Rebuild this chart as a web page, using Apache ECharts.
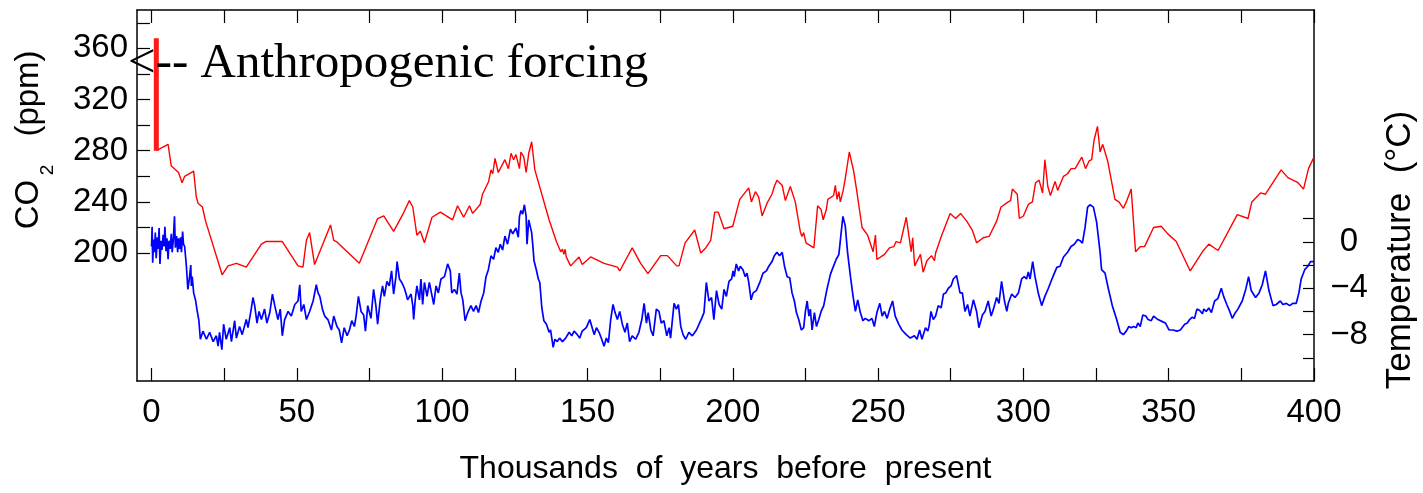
<!DOCTYPE html>
<html><head><meta charset="utf-8">
<script src="https://cdn.jsdelivr.net/npm/echarts@6/dist/echarts.min.js"></script>
<style>html,body{margin:0;padding:0;background:#fff}#c{width:1423px;height:493px}</style>
</head><body><div id="c"></div>
<script>
// ---- data ----
const co2Kyr = [1.65,5.7,6.8,9.3,10.5,11.4,14.5,15.4,16.0,17.5,18.6,24.3,26.3,29.2,32.6,37.8,39.3,45.0,50.4,52.1,53.3,54.4,56.1,61.6,62.7,63.6,71.5,77.8,79.9,83.3,86.4,88.7,89.9,91.3,92.5,93.9,96.5,99.4,103.6,105.3,107.4,109.4,110.5,113.1,113.9,116.0,116.8,117.4,118.2,119.3,121.6,122.8,123.7,124.6,125.4,126.6,127.1,128.1,128.9,129.8,130.8,131.9,136.8,139.3,140.8,141.4,141.9,142.3,142.7,144.2,147.1,148.2,151.1,155.7,160.3,161.1,165.4,168.3,170.8,175.2,177.5,180.7,181.5,183.6,186.9,189.0,190.7,192.4,193.8,195.0,197.0,200.0,202.4,205.5,206.4,207.8,208.9,210.1,211.8,213.5,214.3,215.2,217.0,218.1,218.7,219.8,221.5,223.3,223.8,224.4,225.2,227.9,229.2,230.4,231.1,232.2,232.7,234.7,235.3,235.9,236.5,237.0,237.9,238.7,240.1,241.6,242.5,244.5,246.4,248.3,249.1,249.6,252.2,253.9,255.4,256.2,257.7,259.7,261.4,261.9,262.6,264.6,265.5,266.8,268.4,269.4,269.8,271.9,274.8,276.7,278.4,280.5,282.4,283.9,286.2,288.2,290.8,292.3,294.8,295.6,296.2,297.9,298.6,300.0,301.7,303.1,304.2,305.4,306.6,307.4,308.4,309.3,310.9,311.8,313.8,315.2,316.4,317.8,320.1,321.4,322.6,323.5,324.3,325.5,326.4,327.3,329.0,331.5,332.9,334.4,335.6,337.1,338.6,340.2,341.7,344.8,347.4,349.7,352.6,357.4,361.6,363.8,367.0,373.6,377.3,378.6,381.6,383.3,388.7,391.0,394.5,396.4,398.1,400.0];
const co2Ppm = [280,285,268,263,255,260,264,244,239,236,225,183,190,192,189,207,209,209,190,189,210,216,191,222,210,209,192,227,229,217,230,241,236,214,217,208,228,232,226,237,228,237,231,238,246,256,265,262,274,263,273,266,278,273,277,266,279,275,263,278,287,265,226,209,201,203,199,203,197,190,197,191,197,192,189,186,204,192,184,198,198,190,190,208,218,200,204,210,232,232,219,221,242,251,240,248,244,229,239,246,252,257,253,241,241,252,240,216,213,216,208,204,237,234,226,234,242,245,253,242,248,240,248,258,279,264,251,220,214,201,214,195,199,204,205,209,208,228,201,212,190,199,185,194,198,194,200,214,231,227,231,225,218,208,212,213,225,236,240,241,250,246,227,229,238,240,255,257,247,273,252,245,256,249,260,262,266,266,275,266,272,273,288,299,279,285,272,242,240,235,241,250,201,205,205,220,221,215,209,186,201,207,202,230,227,240,247,246,265,259,255,250,266,275];

const anthroKyr = [1.65, 1.65];
const anthroPpm = [280, 368];

const tempKyr = [0.0,0.2,0.4,0.7,1.0,1.3,1.6,2.0,2.3,2.6,2.9,3.3,3.6,4.0,4.3,4.6,5.0,5.3,5.7,6.0,6.4,6.8,7.1,7.5,7.9,8.2,8.6,9.0,9.3,9.7,10.0,10.3,10.7,11.0,11.4,12.0,12.5,13.0,13.5,13.7,14.0,14.5,15.2,15.6,16.3,16.8,17.7,18.9,20.0,21.2,22.3,22.9,23.4,24.2,24.8,25.7,26.9,27.5,28.6,29.2,30.3,31.2,32.6,33.2,34.3,34.9,35.5,36.3,37.0,37.8,38.9,39.7,40.7,41.6,42.4,43.5,44.3,45.0,45.8,47.0,48.1,49.3,50.4,51.0,51.5,52.4,53.3,54.4,55.6,56.7,57.3,57.9,58.8,59.6,60.7,61.9,62.7,63.8,64.6,65.4,66.3,67.3,68.1,68.9,69.8,70.4,71.2,72.1,73.0,73.6,74.4,75.5,76.4,77.2,77.8,78.7,79.5,80.1,81.0,81.8,82.6,83.3,84.1,84.5,85.3,86.1,87.0,87.6,88.1,89.3,89.9,90.2,90.7,91.3,92.2,92.7,93.3,93.9,94.8,95.6,96.4,97.1,97.9,98.7,99.6,100.8,101.9,102.8,103.3,104.2,105.1,105.9,106.5,107.1,107.9,108.8,109.9,110.8,111.7,112.5,113.4,114.3,115.1,115.9,116.8,117.7,118.5,119.3,120.0,120.8,121.6,122.5,123.5,124.3,125.4,126.2,126.6,127.1,127.7,128.3,128.9,129.2,129.8,130.8,131.2,131.6,132.4,133.1,133.6,134.3,135.0,135.9,136.8,137.3,138.2,138.8,139.6,140.4,141.4,142.5,143.7,144.6,145.4,146.5,147.3,148.2,149.6,150.8,151.5,152.3,153.1,154.0,154.9,155.7,156.5,157.2,158.0,158.8,159.5,160.3,161.1,162.0,162.9,163.7,164.5,165.4,166.6,167.7,168.7,169.5,170.3,170.9,171.8,172.6,173.7,174.6,175.4,176.3,177.3,178.1,178.6,179.8,180.6,181.3,182.1,182.9,183.8,184.9,186.1,187.5,188.4,189.3,190.1,190.9,191.8,192.7,193.5,194.4,195.3,196.2,197.0,197.8,198.7,199.6,200.1,200.5,201.2,202.0,202.6,203.5,204.3,204.9,205.5,206.3,207.0,208.1,209.3,210.4,211.6,212.4,213.5,214.3,215.2,216.1,217.0,217.8,218.7,219.6,220.4,221.2,221.9,222.7,223.6,224.4,225.0,225.6,226.2,226.7,227.3,228.1,228.8,229.6,230.4,231.3,232.4,233.6,234.5,235.6,236.5,237.3,237.9,238.7,239.5,240.5,241.4,242.2,243.0,243.9,244.8,245.6,246.8,247.9,248.7,249.6,250.6,251.4,252.2,253.1,254.0,255.0,255.9,257.1,258.2,259.7,261.1,262.5,263.4,264.3,265.1,266.3,267.1,267.6,268.2,269.0,269.8,270.7,271.7,272.5,273.3,274.2,275.1,275.9,277.0,278.2,279.0,279.9,280.8,281.6,282.8,283.9,284.7,285.9,286.8,287.9,288.9,289.7,290.8,291.6,292.5,293.5,294.3,294.8,296.0,297.1,298.3,299.4,300.3,301.1,301.7,302.3,303.2,304.0,305.2,306.3,307.4,308.6,310.0,311.5,312.6,313.8,315.2,316.4,317.5,318.7,319.5,320.3,321.2,322.1,322.9,324.1,325.2,326.4,326.9,328.1,329.2,330.6,332.1,333.3,334.4,335.4,336.3,337.1,337.9,338.8,339.4,340.2,341.1,342.1,342.9,344.0,344.8,346.3,348.0,348.9,350.1,351.5,352.8,354.0,355.5,356.4,357.2,358.1,358.9,359.7,360.6,361.6,362.1,362.9,363.8,364.7,365.8,366.9,368.1,368.9,370.0,371.0,371.9,372.7,373.8,375.3,376.5,377.5,378.4,379.9,381.1,382.2,383.3,384.5,385.9,387.0,388.4,389.3,390.5,391.6,392.8,393.9,394.8,395.6,396.8,397.9,398.8,400.0];
const tempC = [-0.4,1.3,-1.8,0.2,-0.9,0.8,-1.4,0.4,-0.6,1.2,-1.9,0.1,-0.7,0.6,-0.4,1.3,-0.8,0.3,-1.5,0.1,-0.6,0.7,-0.9,0.2,2.2,-0.5,0.5,-0.9,0.3,-0.6,0.4,-0.9,0.9,-0.2,-0.4,-2.1,-4.1,-3.2,-2.0,-3.8,-3.0,-4.4,-5.1,-5.8,-6.8,-8.4,-7.7,-8.4,-7.8,-8.6,-8.1,-9.0,-7.8,-9.3,-7.1,-8.4,-7.4,-8.6,-6.8,-8.3,-7.3,-8.0,-6.7,-7.4,-5.8,-4.8,-5.5,-7.0,-6.0,-6.7,-5.8,-7.0,-6.1,-4.5,-5.5,-6.7,-5.8,-8.1,-6.7,-6.0,-6.4,-5.4,-5.1,-3.7,-6.0,-5.4,-6.7,-6.0,-5.1,-3.7,-4.4,-4.7,-5.8,-6.4,-6.7,-7.6,-6.4,-7.3,-7.6,-8.7,-7.4,-8.1,-7.6,-6.8,-7.3,-6.4,-4.7,-6.0,-6.3,-7.7,-5.5,-6.6,-4.1,-5.5,-7.1,-5.0,-3.8,-4.7,-3.4,-3.8,-2.5,-4.5,-3.0,-1.7,-3.2,-3.5,-4.0,-4.5,-5.0,-4.5,-5.5,-6.7,-5.1,-3.8,-5.0,-3.2,-5.4,-3.5,-4.7,-3.5,-4.5,-5.4,-3.8,-4.4,-3.2,-3.0,-1.9,-2.5,-4.4,-4.1,-4.5,-2.7,-4.4,-5.0,-6.8,-6.1,-5.5,-6.0,-5.5,-6.1,-5.1,-4.4,-3.0,-2.4,-1.2,-1.5,-0.5,-0.9,-0.2,-0.7,0.5,-0.2,1.1,0.7,1.2,0.4,2.2,2.7,2.4,3.2,2.2,-0.2,1.9,0.8,-0.3,-1.6,-2.4,-3.2,-3.5,-5.7,-6.8,-7.1,-7.8,-7.6,-9.1,-8.4,-8.6,-8.3,-8.6,-8.3,-7.8,-8.1,-7.7,-8.0,-8.3,-7.7,-7.4,-6.7,-7.3,-8.0,-7.4,-7.8,-8.4,-9.0,-8.3,-8.7,-6.7,-5.4,-6.1,-6.7,-6.0,-7.1,-7.8,-7.0,-8.6,-8.1,-8.4,-7.8,-6.7,-5.3,-7.0,-6.1,-7.6,-8.1,-5.8,-6.0,-7.0,-6.8,-8.1,-7.4,-8.3,-5.3,-5.8,-5.4,-7.3,-8.0,-8.4,-7.8,-8.1,-7.6,-7.1,-6.6,-6.1,-3.5,-5.1,-4.8,-6.7,-4.2,-5.4,-5.8,-4.1,-4.7,-3.4,-3.2,-2.5,-3.0,-1.9,-2.5,-2.1,-2.4,-3.0,-2.7,-3.5,-5.0,-4.4,-4.2,-3.5,-2.7,-2.5,-2.1,-1.7,-1.2,-0.9,-1.2,-0.9,-2.1,-3.0,-3.1,-4.4,-5.1,-6.1,-6.7,-7.6,-7.4,-6.0,-5.1,-6.4,-5.8,-7.6,-6.1,-7.3,-6.7,-6.0,-5.5,-4.1,-2.8,-2.2,-1.5,-1.1,0.8,2.2,1.4,-0.9,-3.0,-4.7,-6.0,-5.0,-6.1,-6.8,-6.6,-6.8,-6.6,-7.3,-6.1,-5.3,-6.4,-6.0,-6.6,-5.8,-5.1,-6.4,-7.1,-7.6,-8.0,-8.3,-8.1,-8.4,-7.6,-8.4,-7.4,-7.7,-7.2,-6.0,-6.7,-6.4,-5.5,-5.7,-4.5,-4.4,-4.0,-3.8,-3.2,-2.9,-4.4,-4.4,-6.0,-5.4,-6.4,-5.0,-6.0,-7.4,-6.3,-6.0,-5.1,-6.4,-5.8,-4.8,-5.3,-3.4,-5.1,-6.0,-5.3,-4.5,-4.8,-4.4,-3.2,-3.0,-3.2,-2.6,-3.2,-1.7,-3.0,-4.5,-5.5,-4.7,-4.0,-3.1,-2.2,-2.1,-1.3,-0.9,-0.4,-0.2,0.2,0.1,-0.1,1.2,3.0,3.2,3.0,1.7,-0.9,-2.4,-2.7,-4.0,-5.5,-6.7,-7.8,-8.0,-7.7,-7.3,-7.4,-7.3,-7.4,-7.0,-7.3,-6.3,-6.4,-6.7,-6.8,-6.4,-6.7,-6.9,-7.0,-7.6,-7.6,-7.7,-7.6,-7.1,-7.0,-6.7,-6.5,-6.6,-5.8,-5.9,-6.2,-5.8,-6.0,-5.7,-6.1,-5.1,-4.9,-4.0,-4.7,-5.4,-6.0,-6.6,-6.2,-5.8,-5.1,-4.1,-3.0,-4.2,-4.8,-4.4,-3.7,-2.5,-4.2,-5.5,-5.4,-5.1,-5.4,-5.3,-5.5,-5.3,-5.3,-4.4,-3.2,-2.4,-2.1,-1.7,-1.7];

const xTickValues = [0,25,50,75,100,125,150,175,200,225,250,275,300,325,350,375,400];
const xLabelValues = [0,50,100,150,200,250,300,350,400];
const co2TickValues = [200,220,240,260,280,300,320,340,360,380];
const co2LabelValues = [200,240,280,320,360];
const tempTickValues = [-10,-8,-6,-4,-2,0,2];
const tempLabelValues = [-8,-4,0];

const xTitle = 'Thousands  of  years  before  present';
const tempTitle = 'Temperature  (\u00B0C)';
const co2TitleMain = 'CO';
const co2TitleSub = '2';
const co2TitleUnit = '(ppm)';
const noteText = '<-- Anthropogenic forcing';

// ---- chart ----
const sans = '"Liberation Sans", Arial, sans-serif';
const zip = (a, b) => a.map((v, i) => [v, b[i]]);
const minusFmt = v => (v < 0 ? '\u2212' + Math.abs(v) : String(v));

const chart = echarts.init(document.getElementById('c'), null, {renderer: 'canvas'});
const tickStyle = {color: '#000', width: 1.2};
const frameLine = {show: true, onZero: false, lineStyle: {color: '#000', width: 1.5}};
chart.setOption({
  animation: false,
  backgroundColor: '#fff',
  grid: {left: 137, right: 109, top: 10, bottom: 112, containLabel: false},
  xAxis: [{
    type: 'value', min: -5, max: 400, position: 'bottom',
    axisLine: frameLine,
    axisTick: {show: true, inside: true, length: 13, customValues: xTickValues, lineStyle: tickStyle},
    axisLabel: {show: true, customValues: xLabelValues, fontFamily: sans, fontSize: 33, color: '#000', margin: 15},
    splitLine: {show: false},
    name: xTitle, nameLocation: 'middle', nameGap: 72,
    nameTextStyle: {fontFamily: sans, fontSize: 32, color: '#000'}
  }, {
    type: 'value', min: -5, max: 400, position: 'top',
    axisLine: frameLine,
    axisTick: {show: true, inside: true, length: 13, customValues: xTickValues, lineStyle: tickStyle},
    axisLabel: {show: false},
    splitLine: {show: false}
  }],
  yAxis: [{
    type: 'value', min: 100, max: 390, position: 'left',
    axisLine: frameLine,
    axisTick: {show: true, inside: true, length: 13, customValues: co2TickValues, lineStyle: tickStyle},
    axisLabel: {show: true, customValues: co2LabelValues, fontFamily: sans, fontSize: 33, color: '#000', margin: 9},
    splitLine: {show: false}
  }, {
    type: 'value', min: -12, max: 20, position: 'right',
    axisLine: {show: true, onZero: false, lineStyle: {color: '#444', width: 2}},
    axisTick: {show: true, inside: true, length: 11, customValues: tempTickValues, lineStyle: tickStyle},
    axisLabel: {show: true, customValues: tempLabelValues, formatter: minusFmt, align: 'center', fontFamily: sans, fontSize: 33, color: '#000', margin: 35},
    splitLine: {show: false}
  }],
  series: [{
    name: 'Temperature', type: 'line', xAxisIndex: 0, yAxisIndex: 1,
    data: zip(tempKyr, tempC), showSymbol: false, symbol: 'none',
    lineStyle: {color: '#0000ff', width: 1.7}, z: 2
  }, {
    name: 'CO2', type: 'line', xAxisIndex: 0, yAxisIndex: 0,
    data: zip(co2Kyr, co2Ppm), showSymbol: false, symbol: 'none',
    lineStyle: {color: '#ff0000', width: 1.4}, z: 3
  }, {
    name: 'Anthropogenic', type: 'line', xAxisIndex: 0, yAxisIndex: 0,
    data: zip(anthroKyr, anthroPpm), showSymbol: false, symbol: 'none',
    lineStyle: {color: '#ff1a1a', width: 5}, z: 3
  }],
  graphic: [
    {type: 'text', x: 128, y: 64, z: 100,
     style: {text: noteText, font: '49px "Liberation Serif", "Times New Roman", serif', fill: '#000', align: 'left', verticalAlign: 'middle'}},
    {type: 'text', x: 28.6, y: 204.5, rotation: Math.PI / 2,
     style: {text: co2TitleMain, font: '33px ' + sans, fill: '#000', align: 'center', verticalAlign: 'middle'}},
    {type: 'text', x: 48, y: 170, rotation: Math.PI / 2,
     style: {text: co2TitleSub, font: '19px ' + sans, fill: '#000', align: 'center', verticalAlign: 'middle'}},
    {type: 'text', x: 28.6, y: 93.5, rotation: Math.PI / 2,
     style: {text: co2TitleUnit, font: '33px ' + sans, fill: '#000', align: 'center', verticalAlign: 'middle'}},
    {type: 'text', x: 1400, y: 250, rotation: Math.PI / 2,
     style: {text: tempTitle, font: '35px ' + sans, fill: '#000', align: 'center', verticalAlign: 'middle'}}
  ]
});
</script>
</body></html>
